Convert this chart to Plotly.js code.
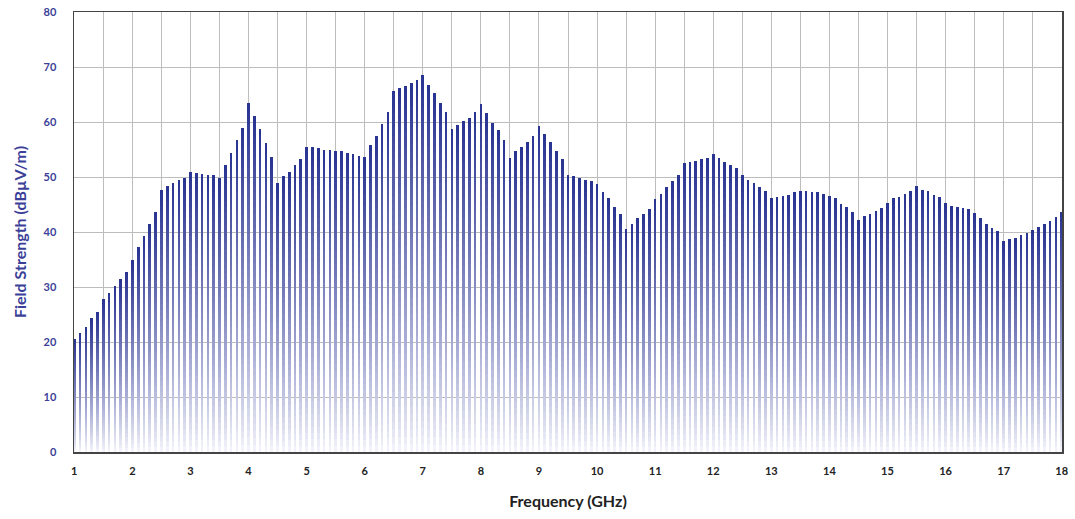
<!DOCTYPE html>
<html>
<head>
<meta charset="utf-8">
<script src="https://cdn.plot.ly/plotly-3.0.1.min.js"></script>
<style>
  html, body { margin: 0; padding: 0; background: #fff; }
  #chart { width: 1075px; height: 519px; }
</style>
</head>
<body>
<div id="chart"></div>
<script>
// Frequency in GHz (1.0 .. 18.0, step 0.1)
const freqStart = 1.0;
const freqStep = 0.1;

// Field strength (dBµV/m), one value per 0.1 GHz
const fieldStrength = [
  20.5, 21.7, 22.8, 24.3, 25.4, 27.9, 29.0, 30.2, 31.4, 32.8,   // 1.0 - 1.9
  35.0, 37.2, 39.3, 41.5, 43.6, 47.7, 48.4, 48.9, 49.4, 49.9,   // 2.0 - 2.9
  51.0, 50.8, 50.6, 50.4, 50.4, 49.9, 52.1, 54.4, 56.8, 59.0,   // 3.0 - 3.9
  63.5, 61.1, 58.7, 56.1, 53.7, 49.0, 50.1, 51.0, 52.1, 53.2,   // 4.0 - 4.9
  55.4, 55.4, 55.2, 54.9, 54.9, 54.7, 54.7, 54.4, 54.2, 53.9,   // 5.0 - 5.9
  53.7, 55.9, 57.5, 59.6, 61.8, 65.7, 66.1, 66.6, 67.1, 67.6,   // 6.0 - 6.9
  68.5, 66.8, 65.2, 63.5, 61.8, 58.7, 59.5, 60.1, 60.8, 61.8,   // 7.0 - 7.9
  63.2, 61.6, 59.9, 58.5, 56.8, 53.5, 54.7, 55.4, 56.3, 57.5,   // 8.0 - 8.9
  59.2, 57.8, 56.3, 54.7, 53.2, 50.4, 50.1, 49.9, 49.4, 49.2,   // 9.0 - 9.9
  48.7, 47.3, 46.1, 44.6, 43.2, 40.5, 41.5, 42.5, 43.2, 44.1,   // 10.0 - 10.9
  46.0, 47.0, 48.2, 49.2, 50.4, 52.5, 52.7, 53.0, 53.2, 53.5,   // 11.0 - 11.9
  54.2, 53.5, 52.7, 52.1, 51.6, 50.4, 49.4, 48.9, 48.2, 47.5,   // 12.0 - 12.9
  46.1, 46.3, 46.5, 46.8, 47.2, 47.5, 47.5, 47.2, 47.2, 47.0,   // 13.0 - 13.9
  46.5, 46.1, 45.1, 44.6, 43.6, 42.2, 42.9, 43.2, 43.9, 44.4,   // 14.0 - 14.9
  45.3, 46.1, 46.3, 47.0, 47.5, 48.4, 47.7, 47.5, 46.8, 46.3,   // 15.0 - 15.9
  45.3, 44.8, 44.6, 44.4, 44.1, 43.4, 42.5, 41.5, 40.8, 40.1,   // 16.0 - 16.9
  38.4, 38.7, 38.9, 39.4, 39.8, 40.3, 41.0, 41.5, 42.0, 42.7,   // 17.0 - 17.9
  43.6                                                          // 18.0
];

const xTickValues = [1,2,3,4,5,6,7,8,9,10,11,12,13,14,15,16,17,18];
const yTickValues = [0,10,20,30,40,50,60,70,80];

const frequency = fieldStrength.map((_, i) => +(freqStart + i * freqStep).toFixed(1));

// Each bar is drawn as a stack of slices to get a vertical gradient (light bottom -> dark top)
const N_SLICES = 48;
const topColor = [40, 50, 145];
const bottomColor = [246, 246, 252];
const traces = [];
for (let k = 0; k < N_SLICES; k++) {
  const t = Math.pow((k + 0.5) / N_SLICES, 0.85);
  const c = bottomColor.map((b, j) => Math.round(b + (topColor[j] - b) * t));
  traces.push({
    type: 'bar',
    x: frequency,
    y: fieldStrength.map(v => v / N_SLICES),
    width: 0.046,
    marker: { color: `rgb(${c[0]},${c[1]},${c[2]})`, line: { width: 0 } },
    hoverinfo: 'skip',
    showlegend: false
  });
}

const layout = {
  width: 1075,
  height: 519,
  margin: { l: 74, r: 13, t: 12, b: 67 },
  paper_bgcolor: '#ffffff',
  plot_bgcolor: '#ffffff',
  barmode: 'stack',
  bargap: 0,
  showlegend: false,
  font: { family: 'Lato, "Open Sans", sans-serif' },
  xaxis: {
    range: [0.995, 18.005],
    tickvals: xTickValues,
    ticktext: xTickValues.map(String),
    showgrid: true,
    gridcolor: '#bdbdbd',
    gridwidth: 1,
    minor: { dtick: 0.5, tick0: 1, showgrid: true, gridcolor: '#bdbdbd', gridwidth: 1 },
    showline: true,
    mirror: true,
    linecolor: '#444',
    linewidth: 1.5,
    zeroline: false,
    ticks: 'outside',
    ticklen: 8,
    tickcolor: 'rgba(0,0,0,0)',
    tickfont: { family: 'Lato, sans-serif', size: 11, color: '#222', weight: 'bold' },
    title: { text: 'Frequency (GHz)', standoff: 20, font: { family: 'Lato, sans-serif', size: 16, color: '#222', weight: 'bold' } }
  },
  yaxis: {
    range: [0, 80],
    tickvals: yTickValues,
    ticktext: yTickValues.map(String),
    showgrid: true,
    gridcolor: '#bdbdbd',
    gridwidth: 1,
    showline: true,
    mirror: true,
    linecolor: '#444',
    linewidth: 1.5,
    zeroline: false,
    ticks: 'outside',
    ticklen: 14,
    tickcolor: 'rgba(0,0,0,0)',
    tickfont: { family: 'Lato, sans-serif', size: 11, color: '#3b3f98', weight: 'bold' },
    title: { text: 'Field Strength (dBµV/m)', standoff: 13, font: { family: 'Lato, sans-serif', size: 16, color: '#3b3f98', weight: 'bold' } }
  }
};

Plotly.newPlot('chart', traces, layout, { displayModeBar: false, staticPlot: true });
</script>
</body>
</html>
